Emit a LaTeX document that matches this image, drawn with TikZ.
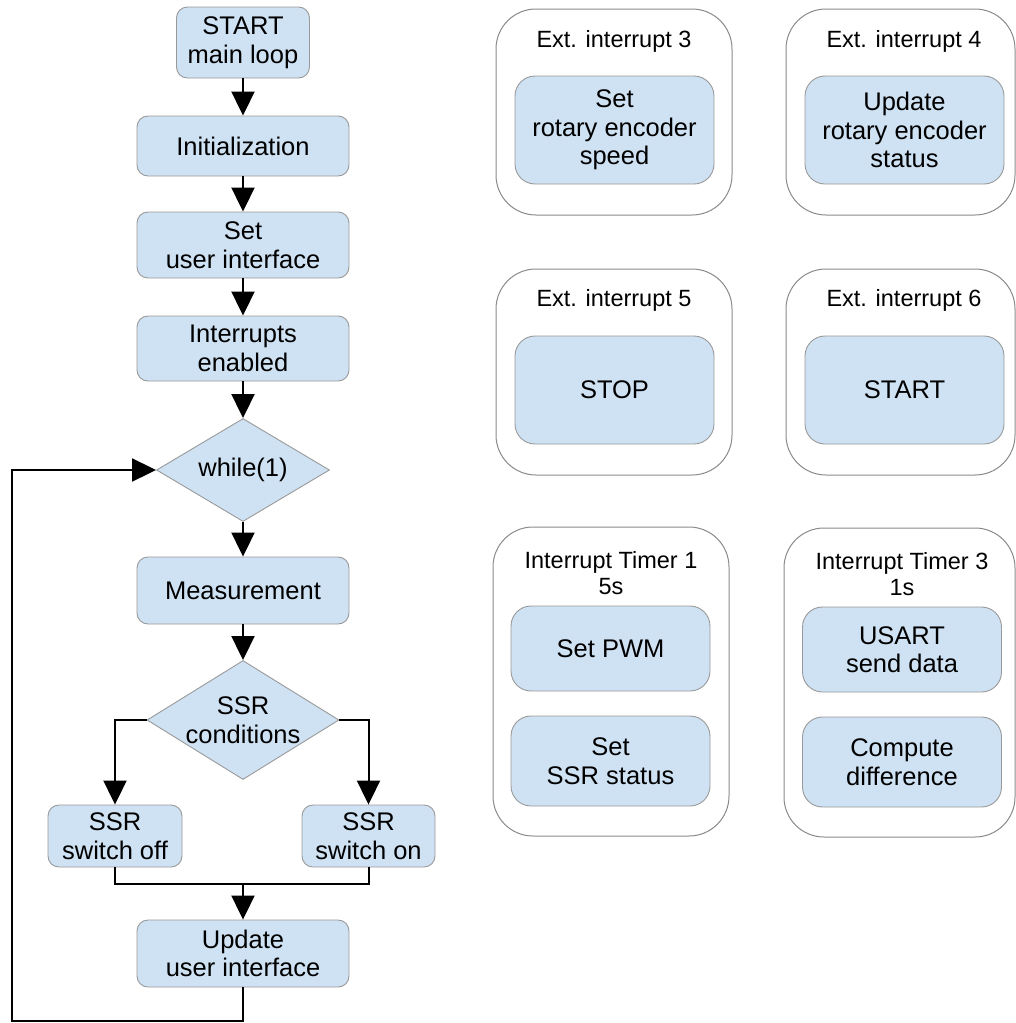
\documentclass[tikz,border=0pt]{standalone}
\usepackage{fontspec}
\setmainfont{Liberation Sans}
\usetikzlibrary{shapes.geometric,arrows.meta}

\definecolor{boxblue}{HTML}{CFE2F3}
\definecolor{boxline}{HTML}{999999}
\definecolor{groupline}{HTML}{8A8A8A}

\newcommand{\boxfont}{\fontsize{25.5}{28.5}\selectfont}
\newcommand{\titlefont}{\fontsize{23.5}{26}\selectfont}

\tikzset{
  wh/.style 2 args={minimum width=#1pt, minimum height=#2pt},
  proc/.style={rectangle, rounded corners=11pt, draw=boxline, line width=0.9pt,
    fill=boxblue, align=center, inner sep=0pt, font=\boxfont},
  inproc/.style={proc, rounded corners=20pt},
  decision/.style={diamond, draw=boxline, line width=0.9pt, fill=boxblue, inner sep=0pt,
    label={[font=\boxfont, align=center]center:#1}},
  group/.style={rectangle, rounded corners=40pt, draw=groupline, line width=1pt, inner sep=0pt},
  title/.style={align=center, inner sep=0pt, font=\titlefont},
  wire/.style={line width=2pt},
  flow/.style={wire, -{Triangle[length=24pt,width=23pt]}},
}

\begin{document}
\begin{tikzpicture}[x=1pt, y=-1pt]
    \useasboundingbox (0,0) rectangle (1016,1023);

    % main loop
    \node[proc, wh={133}{71}] (start) at (243,42.5) {START\\main loop};
    \node[proc, wh={212}{60}] (init) at (243,146) {Initialization};
    \node[proc, wh={212}{66}] (setui) at (243,245) {Set\\user interface};
    \node[proc, wh={212}{65}] (intr) at (243,348.5) {Interrupts\\enabled};
    \node[decision={while(1)}, wh={173}{103}] (while) at (243,470) {};
    \node[proc, wh={212}{67}] (meas) at (243,590.5) {Measurement};
    \node[decision={SSR\\conditions}, wh={192}{119}] (cond) at (243,720) {};
    \node[proc, wh={134}{62}] (off) at (115,836) {SSR\\switch off};
    \node[proc, wh={133}{62}] (on) at (368.5,836) {SSR\\switch on};
    \node[proc, wh={212}{67}] (upd) at (243,953.5) {Update\\user interface};

    \coordinate (join) at (243,884);
    \coordinate (loopend) at (12,1021);

    \draw[flow] (start) -- (init);
    \draw[flow] (init) -- (setui);
    \draw[flow] (setui) -- (intr);
    \draw[flow] (intr) -- (while);
    \draw[flow] (while) -- (meas);
    \draw[flow] (meas) -- (cond);
    \draw[flow] (cond.west) -| (off);
    \draw[flow] (cond.east) -| (on);
    \draw[wire] (off.south) -- (off.south |- join) -- (on.south |- join) -- (on.south);
    \draw[flow] (join) -- (upd);
    \draw[flow] (upd.south) |- (loopend) |- (while.west);

    % interrupt routines
    \node[group, wh={236}{206}] (ext3) at (614,112) {};
    \node[title] (ext3t) at (614,41) {Ext. interrupt 3};
    \node[inproc, wh={199}{108}] (speed) at (614.5,130) {Set\\rotary encoder\\speed};

    \node[group, wh={229}{206}] (ext4) at (900.5,112) {};
    \node[title] (ext4t) at (904,41) {Ext. interrupt 4};
    \node[inproc, wh={199}{108}] (status) at (904.5,130) {Update\\rotary encoder\\status};

    \node[group, wh={236}{206}] (ext5) at (614,372) {};
    \node[title] (ext5t) at (614,300) {Ext. interrupt 5};
    \node[inproc, wh={199}{108}] (stop) at (614.5,390) {STOP};

    \node[group, wh={229}{206}] (ext6) at (900.5,372) {};
    \node[title] (ext6t) at (904,300) {Ext. interrupt 6};
    \node[inproc, wh={199}{108}] (run) at (904.5,390) {START};

    \node[group, wh={236}{309}] (tim1) at (611,681.5) {};
    \node[title] (tim1t) at (611,573) {Interrupt Timer 1\\5s};
    \node[inproc, wh={199}{85}] (pwm) at (610.5,648.5) {Set PWM};
    \node[inproc, wh={199}{90}] (ssr) at (610.5,761) {Set\\SSR status};

    \node[group, wh={231}{309}] (tim3) at (899.5,682.5) {};
    \node[title] (tim3t) at (902,574) {Interrupt Timer 3\\1s};
    \node[inproc, wh={199}{85}] (usart) at (902,649.5) {USART\\send data};
    \node[inproc, wh={199}{90}] (diff) at (902,762) {Compute\\difference};
\end{tikzpicture}
\end{document}
